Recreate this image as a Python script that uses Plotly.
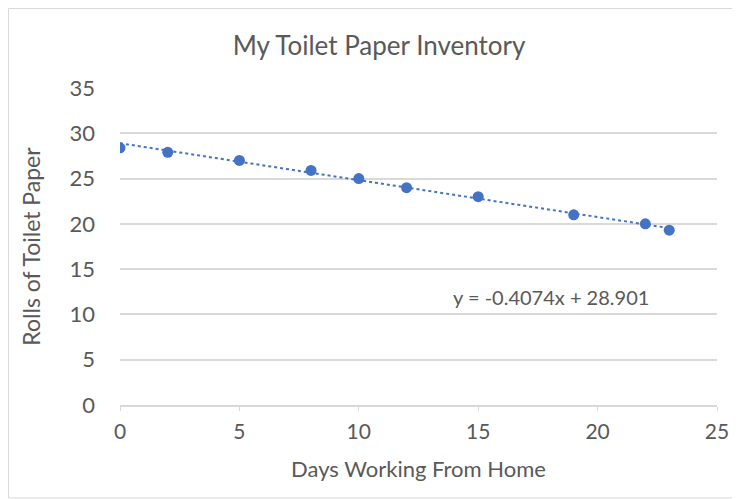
import plotly.graph_objects as go

days = [0, 2, 5, 8, 10, 12, 15, 19, 22, 23]
rolls = [28.4, 27.9, 27.0, 25.9, 25.0, 24.0, 23.0, 21.0, 20.0, 19.3]
slope = -0.4074
intercept = 28.901
trend_x = [0, 23]
trend_y = [intercept + slope * x for x in trend_x]
x_ticks = [0, 5, 10, 15, 20, 25]
y_ticks = [0, 5, 10, 15, 20, 25, 30, 35]

blue = "#4472C4"
grey_text = "#595959"
font_family = "Lato, 'Open Sans', sans-serif"

fig = go.Figure()
fig.add_trace(go.Scatter(x=trend_x, y=trend_y, mode="lines",
                         line=dict(color=blue, width=2, dash="dot"),
                         hoverinfo="skip", showlegend=False))
fig.add_trace(go.Scatter(x=days, y=rolls, mode="markers",
                         marker=dict(color=blue, size=11),
                         showlegend=False))

fig.add_annotation(x=18.05, y=11.9, xref="x", yref="y",
                   text="y = -0.4074x + 28.901", showarrow=False,
                   font=dict(family=font_family, size=20, color=grey_text))

fig.add_shape(type="rect", xref="paper", yref="paper",
              x0=-0.1868, x1=1.0377, y0=-0.293, y1=1.2508,
              line=dict(color="#d9d9d9", width=1), layer="below")

fig.update_layout(
    width=732, height=491,
    margin=dict(l=112, r=23, t=80, b=94),
    paper_bgcolor="white", plot_bgcolor="white",
    font=dict(family=font_family, color=grey_text),
    title=dict(text="My Toilet Paper Inventory", x=0.507, xanchor="center",
               y=0.9226, yanchor="middle",
               font=dict(family=font_family, size=26, color=grey_text)),
    xaxis=dict(range=[0, 25], tickvals=x_ticks, showgrid=False, zeroline=False,
               showline=True, linecolor="#d9d9d9", linewidth=1.5,
               ticks="outside", ticklen=4, tickcolor="#d9d9d9",
               tickfont=dict(size=21, color=grey_text), ticklabelstandoff=3,
               title=dict(text="Days Working From Home", standoff=20,
                          font=dict(size=22, color=grey_text))),
    yaxis=dict(range=[0, 35], tickvals=y_ticks, showgrid=True,
               gridcolor="#d9d9d9", gridwidth=1.5, zeroline=False,
               showline=False, ticks="",
               tickfont=dict(size=22, color=grey_text), ticklabelstandoff=24,
               title=dict(text="Rolls of Toilet Paper", standoff=22,
                          font=dict(size=23, color=grey_text))),
)

fig.write_html("out.html")
